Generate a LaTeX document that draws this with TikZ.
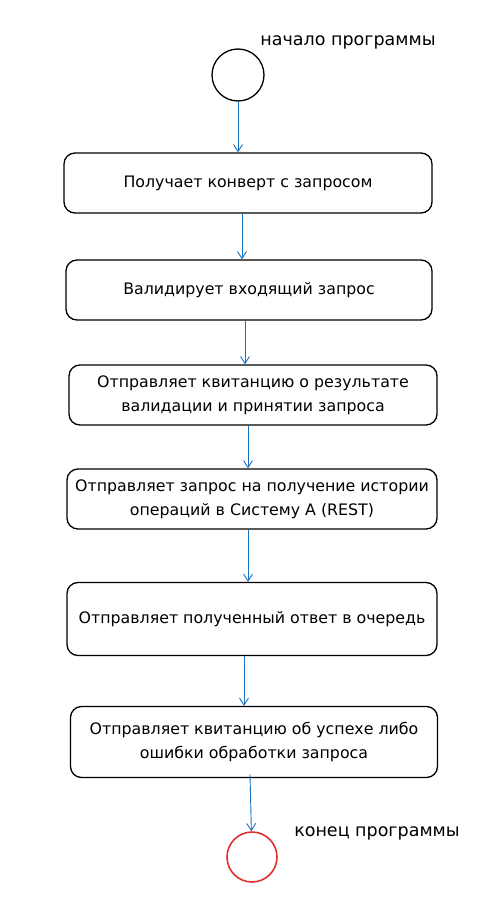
\documentclass[tikz,border=0pt]{standalone}
\usepackage{fontspec}
\setmainfont{DejaVu Sans}
\usetikzlibrary{arrows.meta}
\definecolor{flowblue}{HTML}{1971C2}
\definecolor{stopred}{HTML}{E03131}
\tikzset{
  act/.style={draw, line width=1.3pt, rounded corners=11pt, align=center,
    minimum height=60pt, inner sep=1pt, font=\fontsize{15.8}{24}\selectfont},
  flow/.style={->, flowblue, line width=.9pt, >={Straight Barb[length=7pt,width=9pt]}},
  lbl/.style={font=\fontsize{17.5}{20}\selectfont}
}
\begin{document}
\begin{tikzpicture}[x=1pt,y=-1pt]
		\useasboundingbox (0,0) rectangle (481,915);
		\node[draw, circle, line width=1.3pt, minimum size=52pt] (start) at (238,75) {};
		\node[lbl] (a) at (348,42) {начало программы};
		
		\node[act, minimum width=368pt] (b1) at (248,183) {Получает конверт с запросом};
		\node[act, minimum width=366pt] (b2) at (249,290) {Валидирует входящий запрос};
		\node[act, minimum width=368pt] (b3) at (253,395) {Отправляет квитанцию о результате\\валидации и принятии запроса};
		\node[act, minimum width=370pt] (b4) at (252,499) {Отправляет запрос на получение истории\\операций в Систему A (REST)};
		\node[act, minimum width=370pt, minimum height=73pt] (b5) at (252,619) {Отправляет полученный ответ в очередь};
		\node[act, minimum width=367pt, minimum height=71pt] (b6) at (254,742) {Отправляет квитанцию об успехе либо\\ошибки обработки запроса};
		
		\node[draw=stopred, circle, line width=1.6pt, minimum size=50pt] (stop) at (252,857) {};
		\node[lbl] (b) at (377,833) {конец программы};
		
		\draw[flow] (start) -- (start |- b1.north);
		\draw[flow] ([xshift=-6pt]b1.south) -- ([xshift=-6pt]b1.south |- b2.north);
		\draw[flow] ([xshift=-4pt]b2.south) -- ([xshift=-4pt]b2.south |- b3.north);
		\draw[flow] ([xshift=-5pt]b3.south) -- ([xshift=-5pt]b3.south |- b4.north);
		\draw[flow] ([xshift=-4pt]b4.south) -- ([xshift=-4pt]b4.south |- b5.north);
		\draw[flow] ([xshift=-8pt]b5.south) -- ([xshift=-8pt]b5.south |- b6.north);
		\draw[flow] ([xshift=-4pt,yshift=4pt]b6.south) -- (stop);
\end{tikzpicture}
\end{document}
